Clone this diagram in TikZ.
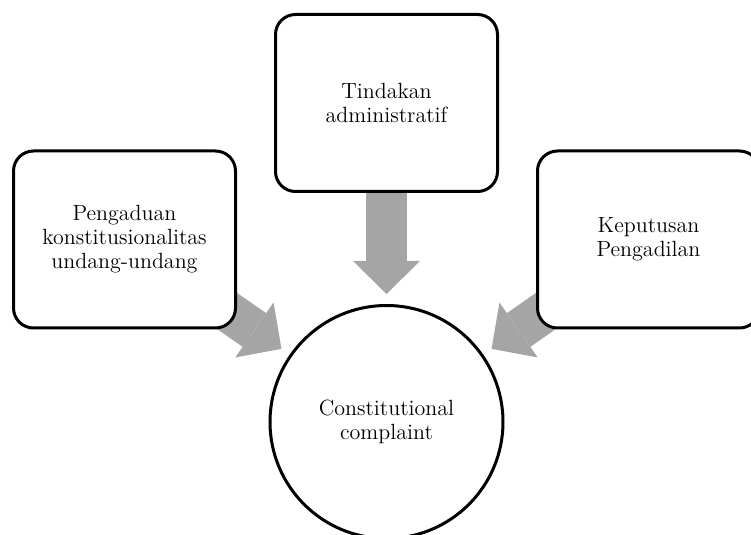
\documentclass[tikz,border=0pt]{standalone}
\usetikzlibrary{arrows.meta, calc}
\pgfdeclarelayer{background}
\pgfsetlayers{background,main}
\definecolor{arrowgray}{HTML}{A5A5A5}
\tikzstyle{box_node} = [
    rectangle,
    rounded corners=10pt,
    draw=black,
    fill=white,
    line width=1.5pt,
    align=center,
    minimum width=111pt,
    minimum height=88.5pt,
    font=\fontsize{11}{12}\selectfont
]
\tikzstyle{circle_node} = [
    circle,
    draw=black,
    fill=white,
    line width=1.5pt,
    align=center,
    minimum size=116.5pt,
    font=\fontsize{11}{12}\selectfont
]
\tikzstyle{big_arrow} = [
    draw=arrowgray,
    line width=20.5pt,
    -{Triangle[width=33.5pt, length=16.5pt, line width=0pt, fill=arrowgray]}
]

\begin{document}
\begin{tikzpicture}[x=0.5pt, y=-0.5pt]
\useasboundingbox (0,0) rectangle (751,535);
\clip (0,0) rectangle (751,535);
\node [circle_node] (complaint) at (386.5,422) {Constitutional\\complaint};
\node [box_node] (tindakan) at (386.5,103) {Tindakan\\administratif};
\node [box_node] (pengaduan) at (124.5,239.5) {Pengaduan\\konstitusionalitas\\undang-undang};
\node [box_node] (keputusan) at (648.5,239.5) {Keputusan\\Pengadilan};
\begin{pgfonlayer}{background}
\foreach \src in {tindakan, pengaduan, keputusan}
    \draw [big_arrow] (\src.center) -- ($(complaint.center)!64pt!(\src.center)$);
\end{pgfonlayer}
\end{tikzpicture}
\end{document}
